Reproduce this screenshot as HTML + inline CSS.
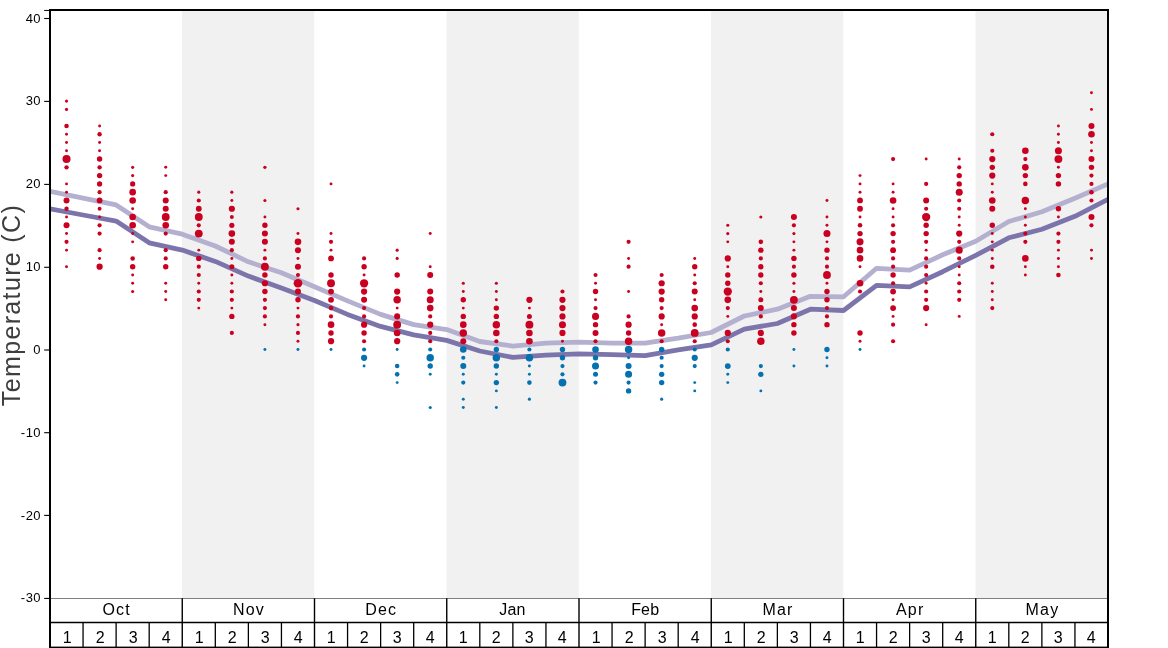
<!DOCTYPE html>
<html><head><meta charset="utf-8"><title>Temperature chart</title>
<style>html,body{margin:0;padding:0;background:#fff;}body{width:1168px;height:648px;overflow:hidden;}svg{display:block;}text{font-family:"Liberation Sans",sans-serif;}</style>
</head><body>
<svg width="1168" height="648" viewBox="0 0 1168 648">
<rect x="0" y="0" width="1168" height="648" fill="#ffffff"/>
<rect x="182.00" y="10.00" width="132.25" height="588.40" fill="#f1f1f1"/>
<rect x="446.50" y="10.00" width="132.25" height="588.40" fill="#f1f1f1"/>
<rect x="711.00" y="10.00" width="132.25" height="588.40" fill="#f1f1f1"/>
<rect x="975.50" y="10.00" width="132.25" height="588.40" fill="#f1f1f1"/>
<line x1="50.0" y1="598.5" x2="1108.0" y2="598.5" stroke="#808080" stroke-width="1"/>
<defs><filter id="ga" filterUnits="userSpaceOnUse" x="0" y="0" width="1168" height="648" color-interpolation-filters="sRGB"><feOffset dx="0" dy="0"/></filter><clipPath id="ax"><rect x="50.0" y="10.0" width="1058.0" height="637.6"/></clipPath></defs>
<polyline clip-path="url(#ax)" points="50.00,191.30 83.06,198.10 116.12,204.90 149.19,226.80 182.25,234.20 215.31,246.00 248.38,261.80 281.44,272.70 314.50,286.80 347.56,300.90 380.62,314.40 413.69,324.60 446.75,329.60 479.81,341.50 512.88,346.10 545.94,343.10 579.00,342.20 612.06,343.10 645.12,343.10 678.19,338.20 711.25,332.50 744.31,316.00 777.38,309.20 810.44,296.30 843.50,296.80 876.56,268.30 909.62,270.10 942.69,254.80 975.75,241.20 1008.81,221.50 1041.88,211.80 1074.94,198.30 1108.00,184.00" fill="none" stroke="#b4b0cf" stroke-width="4.8" stroke-linejoin="round" stroke-linecap="butt"/>
<polyline clip-path="url(#ax)" points="50.00,208.90 83.06,215.00 116.12,221.10 149.19,242.80 182.25,250.10 215.31,261.40 248.38,276.10 281.44,288.00 314.50,300.50 347.56,314.40 380.62,326.40 413.69,334.80 446.75,340.40 479.81,351.00 512.88,357.40 545.94,355.10 579.00,353.80 612.06,354.70 645.12,355.60 678.19,349.90 711.25,344.90 744.31,329.10 777.38,323.50 810.44,309.20 843.50,310.50 876.56,285.30 909.62,286.90 942.69,271.70 975.75,255.40 1008.81,237.80 1041.88,229.20 1074.94,216.30 1108.00,199.40" fill="none" stroke="#7c75ab" stroke-width="4.8" stroke-linejoin="round" stroke-linecap="butt"/>
<circle cx="66.53" cy="101.10" r="1.57" fill="#ca0020"/><circle cx="66.53" cy="109.38" r="1.57" fill="#ca0020"/><circle cx="66.53" cy="125.94" r="2.29" fill="#ca0020"/><circle cx="66.53" cy="134.22" r="1.47" fill="#ca0020"/><circle cx="66.53" cy="142.50" r="1.47" fill="#ca0020"/><circle cx="66.53" cy="150.78" r="1.47" fill="#ca0020"/><circle cx="66.53" cy="159.06" r="4.03" fill="#ca0020"/><circle cx="66.53" cy="167.34" r="2.19" fill="#ca0020"/><circle cx="66.53" cy="183.90" r="1.47" fill="#ca0020"/><circle cx="66.53" cy="192.18" r="1.47" fill="#ca0020"/><circle cx="66.53" cy="200.46" r="3.01" fill="#ca0020"/><circle cx="66.53" cy="208.74" r="2.19" fill="#ca0020"/><circle cx="66.53" cy="217.02" r="1.47" fill="#ca0020"/><circle cx="66.53" cy="225.30" r="3.01" fill="#ca0020"/><circle cx="66.53" cy="233.58" r="1.47" fill="#ca0020"/><circle cx="66.53" cy="241.86" r="2.08" fill="#ca0020"/><circle cx="66.53" cy="250.14" r="1.47" fill="#ca0020"/><circle cx="66.53" cy="266.70" r="1.47" fill="#ca0020"/>
<circle cx="99.59" cy="125.94" r="1.47" fill="#ca0020"/><circle cx="99.59" cy="134.22" r="2.19" fill="#ca0020"/><circle cx="99.59" cy="142.50" r="1.47" fill="#ca0020"/><circle cx="99.59" cy="150.78" r="1.47" fill="#ca0020"/><circle cx="99.59" cy="159.06" r="2.70" fill="#ca0020"/><circle cx="99.59" cy="167.34" r="2.19" fill="#ca0020"/><circle cx="99.59" cy="175.62" r="2.70" fill="#ca0020"/><circle cx="99.59" cy="183.90" r="2.60" fill="#ca0020"/><circle cx="99.59" cy="192.18" r="2.08" fill="#ca0020"/><circle cx="99.59" cy="200.46" r="2.91" fill="#ca0020"/><circle cx="99.59" cy="208.74" r="1.98" fill="#ca0020"/><circle cx="99.59" cy="217.02" r="1.47" fill="#ca0020"/><circle cx="99.59" cy="225.30" r="2.08" fill="#ca0020"/><circle cx="99.59" cy="233.58" r="2.08" fill="#ca0020"/><circle cx="99.59" cy="250.14" r="2.08" fill="#ca0020"/><circle cx="99.59" cy="258.42" r="1.47" fill="#ca0020"/><circle cx="99.59" cy="266.70" r="3.11" fill="#ca0020"/>
<circle cx="132.66" cy="167.34" r="1.57" fill="#ca0020"/><circle cx="132.66" cy="175.62" r="1.57" fill="#ca0020"/><circle cx="132.66" cy="183.90" r="2.60" fill="#ca0020"/><circle cx="132.66" cy="192.18" r="3.31" fill="#ca0020"/><circle cx="132.66" cy="200.46" r="3.31" fill="#ca0020"/><circle cx="132.66" cy="208.74" r="1.47" fill="#ca0020"/><circle cx="132.66" cy="217.02" r="3.31" fill="#ca0020"/><circle cx="132.66" cy="225.30" r="3.31" fill="#ca0020"/><circle cx="132.66" cy="233.58" r="1.47" fill="#ca0020"/><circle cx="132.66" cy="241.86" r="1.47" fill="#ca0020"/><circle cx="132.66" cy="258.42" r="2.29" fill="#ca0020"/><circle cx="132.66" cy="266.70" r="2.70" fill="#ca0020"/><circle cx="132.66" cy="274.98" r="1.47" fill="#ca0020"/><circle cx="132.66" cy="283.26" r="1.47" fill="#ca0020"/><circle cx="132.66" cy="291.54" r="1.57" fill="#ca0020"/>
<circle cx="165.72" cy="167.34" r="1.47" fill="#ca0020"/><circle cx="165.72" cy="175.62" r="1.47" fill="#ca0020"/><circle cx="165.72" cy="192.18" r="2.08" fill="#ca0020"/><circle cx="165.72" cy="200.46" r="3.01" fill="#ca0020"/><circle cx="165.72" cy="208.74" r="3.01" fill="#ca0020"/><circle cx="165.72" cy="217.02" r="3.93" fill="#ca0020"/><circle cx="165.72" cy="225.30" r="3.31" fill="#ca0020"/><circle cx="165.72" cy="233.58" r="2.08" fill="#ca0020"/><circle cx="165.72" cy="250.14" r="2.08" fill="#ca0020"/><circle cx="165.72" cy="258.42" r="2.08" fill="#ca0020"/><circle cx="165.72" cy="266.70" r="2.70" fill="#ca0020"/><circle cx="165.72" cy="283.26" r="1.47" fill="#ca0020"/><circle cx="165.72" cy="291.54" r="1.47" fill="#ca0020"/><circle cx="165.72" cy="299.82" r="1.47" fill="#ca0020"/>
<circle cx="198.78" cy="192.18" r="1.57" fill="#ca0020"/><circle cx="198.78" cy="200.46" r="2.08" fill="#ca0020"/><circle cx="198.78" cy="208.74" r="2.91" fill="#ca0020"/><circle cx="198.78" cy="217.02" r="3.93" fill="#ca0020"/><circle cx="198.78" cy="225.30" r="2.08" fill="#ca0020"/><circle cx="198.78" cy="233.58" r="3.93" fill="#ca0020"/><circle cx="198.78" cy="250.14" r="1.47" fill="#ca0020"/><circle cx="198.78" cy="258.42" r="2.70" fill="#ca0020"/><circle cx="198.78" cy="266.70" r="2.08" fill="#ca0020"/><circle cx="198.78" cy="274.98" r="2.08" fill="#ca0020"/><circle cx="198.78" cy="283.26" r="1.47" fill="#ca0020"/><circle cx="198.78" cy="291.54" r="2.08" fill="#ca0020"/><circle cx="198.78" cy="299.82" r="2.08" fill="#ca0020"/><circle cx="198.78" cy="308.10" r="1.47" fill="#ca0020"/>
<circle cx="231.84" cy="192.18" r="1.57" fill="#ca0020"/><circle cx="231.84" cy="200.46" r="1.47" fill="#ca0020"/><circle cx="231.84" cy="208.74" r="3.11" fill="#ca0020"/><circle cx="231.84" cy="217.02" r="1.98" fill="#ca0020"/><circle cx="231.84" cy="225.30" r="2.60" fill="#ca0020"/><circle cx="231.84" cy="233.58" r="3.31" fill="#ca0020"/><circle cx="231.84" cy="241.86" r="3.01" fill="#ca0020"/><circle cx="231.84" cy="250.14" r="2.08" fill="#ca0020"/><circle cx="231.84" cy="258.42" r="1.47" fill="#ca0020"/><circle cx="231.84" cy="266.70" r="2.50" fill="#ca0020"/><circle cx="231.84" cy="274.98" r="1.47" fill="#ca0020"/><circle cx="231.84" cy="283.26" r="1.47" fill="#ca0020"/><circle cx="231.84" cy="291.54" r="2.08" fill="#ca0020"/><circle cx="231.84" cy="299.82" r="2.08" fill="#ca0020"/><circle cx="231.84" cy="308.10" r="1.47" fill="#ca0020"/><circle cx="231.84" cy="316.38" r="2.70" fill="#ca0020"/><circle cx="231.84" cy="332.94" r="2.08" fill="#ca0020"/>
<circle cx="264.91" cy="167.34" r="1.67" fill="#ca0020"/><circle cx="264.91" cy="200.46" r="1.57" fill="#ca0020"/><circle cx="264.91" cy="217.02" r="1.47" fill="#ca0020"/><circle cx="264.91" cy="225.30" r="2.70" fill="#ca0020"/><circle cx="264.91" cy="233.58" r="3.01" fill="#ca0020"/><circle cx="264.91" cy="241.86" r="3.01" fill="#ca0020"/><circle cx="264.91" cy="250.14" r="1.47" fill="#ca0020"/><circle cx="264.91" cy="258.42" r="2.08" fill="#ca0020"/><circle cx="264.91" cy="266.70" r="3.93" fill="#ca0020"/><circle cx="264.91" cy="274.98" r="2.70" fill="#ca0020"/><circle cx="264.91" cy="283.26" r="3.11" fill="#ca0020"/><circle cx="264.91" cy="291.54" r="2.70" fill="#ca0020"/><circle cx="264.91" cy="299.82" r="2.08" fill="#ca0020"/><circle cx="264.91" cy="308.10" r="2.08" fill="#ca0020"/><circle cx="264.91" cy="316.38" r="2.08" fill="#ca0020"/><circle cx="264.91" cy="324.66" r="1.47" fill="#ca0020"/><circle cx="264.91" cy="349.50" r="1.47" fill="#0571b0"/>
<circle cx="297.97" cy="208.74" r="1.57" fill="#ca0020"/><circle cx="297.97" cy="233.58" r="1.47" fill="#ca0020"/><circle cx="297.97" cy="241.86" r="3.31" fill="#ca0020"/><circle cx="297.97" cy="250.14" r="3.01" fill="#ca0020"/><circle cx="297.97" cy="258.42" r="1.47" fill="#ca0020"/><circle cx="297.97" cy="266.70" r="3.01" fill="#ca0020"/><circle cx="297.97" cy="274.98" r="2.08" fill="#ca0020"/><circle cx="297.97" cy="283.26" r="4.34" fill="#ca0020"/><circle cx="297.97" cy="291.54" r="3.01" fill="#ca0020"/><circle cx="297.97" cy="299.82" r="2.70" fill="#ca0020"/><circle cx="297.97" cy="308.10" r="1.47" fill="#ca0020"/><circle cx="297.97" cy="316.38" r="2.08" fill="#ca0020"/><circle cx="297.97" cy="324.66" r="1.57" fill="#ca0020"/><circle cx="297.97" cy="332.94" r="2.08" fill="#ca0020"/><circle cx="297.97" cy="341.22" r="1.47" fill="#ca0020"/><circle cx="297.97" cy="349.50" r="1.47" fill="#0571b0"/>
<circle cx="331.03" cy="183.90" r="1.47" fill="#ca0020"/><circle cx="331.03" cy="233.58" r="1.47" fill="#ca0020"/><circle cx="331.03" cy="241.86" r="2.08" fill="#ca0020"/><circle cx="331.03" cy="250.14" r="1.47" fill="#ca0020"/><circle cx="331.03" cy="258.42" r="2.91" fill="#ca0020"/><circle cx="331.03" cy="274.98" r="2.70" fill="#ca0020"/><circle cx="331.03" cy="283.26" r="3.93" fill="#ca0020"/><circle cx="331.03" cy="291.54" r="2.91" fill="#ca0020"/><circle cx="331.03" cy="299.82" r="2.91" fill="#ca0020"/><circle cx="331.03" cy="308.10" r="2.29" fill="#ca0020"/><circle cx="331.03" cy="316.38" r="2.08" fill="#ca0020"/><circle cx="331.03" cy="324.66" r="3.31" fill="#ca0020"/><circle cx="331.03" cy="332.94" r="2.70" fill="#ca0020"/><circle cx="331.03" cy="341.22" r="3.11" fill="#ca0020"/><circle cx="331.03" cy="349.50" r="1.47" fill="#0571b0"/>
<circle cx="364.09" cy="258.42" r="2.08" fill="#ca0020"/><circle cx="364.09" cy="266.70" r="2.70" fill="#ca0020"/><circle cx="364.09" cy="274.98" r="1.47" fill="#ca0020"/><circle cx="364.09" cy="283.26" r="4.13" fill="#ca0020"/><circle cx="364.09" cy="291.54" r="3.11" fill="#ca0020"/><circle cx="364.09" cy="299.82" r="3.01" fill="#ca0020"/><circle cx="364.09" cy="308.10" r="2.08" fill="#ca0020"/><circle cx="364.09" cy="316.38" r="2.08" fill="#ca0020"/><circle cx="364.09" cy="324.66" r="3.11" fill="#ca0020"/><circle cx="364.09" cy="332.94" r="2.70" fill="#ca0020"/><circle cx="364.09" cy="341.22" r="2.08" fill="#ca0020"/><circle cx="364.09" cy="349.50" r="2.08" fill="#0571b0"/><circle cx="364.09" cy="357.78" r="3.11" fill="#0571b0"/><circle cx="364.09" cy="366.06" r="1.47" fill="#0571b0"/>
<circle cx="397.16" cy="250.14" r="1.57" fill="#ca0020"/><circle cx="397.16" cy="258.42" r="1.57" fill="#ca0020"/><circle cx="397.16" cy="274.98" r="2.70" fill="#ca0020"/><circle cx="397.16" cy="291.54" r="3.11" fill="#ca0020"/><circle cx="397.16" cy="299.82" r="3.72" fill="#ca0020"/><circle cx="397.16" cy="308.10" r="1.47" fill="#ca0020"/><circle cx="397.16" cy="316.38" r="3.01" fill="#ca0020"/><circle cx="397.16" cy="324.66" r="3.93" fill="#ca0020"/><circle cx="397.16" cy="332.94" r="3.31" fill="#ca0020"/><circle cx="397.16" cy="341.22" r="3.11" fill="#ca0020"/><circle cx="397.16" cy="349.50" r="1.47" fill="#0571b0"/><circle cx="397.16" cy="366.06" r="2.29" fill="#0571b0"/><circle cx="397.16" cy="374.34" r="2.29" fill="#0571b0"/><circle cx="397.16" cy="382.62" r="1.47" fill="#0571b0"/>
<circle cx="430.22" cy="233.58" r="1.47" fill="#ca0020"/><circle cx="430.22" cy="266.70" r="1.47" fill="#ca0020"/><circle cx="430.22" cy="274.98" r="3.01" fill="#ca0020"/><circle cx="430.22" cy="291.54" r="3.01" fill="#ca0020"/><circle cx="430.22" cy="299.82" r="3.52" fill="#ca0020"/><circle cx="430.22" cy="308.10" r="3.31" fill="#ca0020"/><circle cx="430.22" cy="316.38" r="2.08" fill="#ca0020"/><circle cx="430.22" cy="324.66" r="3.11" fill="#ca0020"/><circle cx="430.22" cy="332.94" r="2.08" fill="#ca0020"/><circle cx="430.22" cy="341.22" r="2.08" fill="#ca0020"/><circle cx="430.22" cy="349.50" r="2.08" fill="#0571b0"/><circle cx="430.22" cy="357.78" r="3.72" fill="#0571b0"/><circle cx="430.22" cy="366.06" r="2.70" fill="#0571b0"/><circle cx="430.22" cy="374.34" r="1.47" fill="#0571b0"/><circle cx="430.22" cy="407.46" r="1.57" fill="#0571b0"/>
<circle cx="463.28" cy="283.26" r="1.57" fill="#ca0020"/><circle cx="463.28" cy="291.54" r="1.47" fill="#ca0020"/><circle cx="463.28" cy="299.82" r="2.70" fill="#ca0020"/><circle cx="463.28" cy="308.10" r="1.47" fill="#ca0020"/><circle cx="463.28" cy="316.38" r="2.70" fill="#ca0020"/><circle cx="463.28" cy="324.66" r="3.31" fill="#ca0020"/><circle cx="463.28" cy="332.94" r="3.72" fill="#ca0020"/><circle cx="463.28" cy="341.22" r="3.01" fill="#ca0020"/><circle cx="463.28" cy="349.50" r="3.31" fill="#0571b0"/><circle cx="463.28" cy="357.78" r="2.08" fill="#0571b0"/><circle cx="463.28" cy="366.06" r="3.01" fill="#0571b0"/><circle cx="463.28" cy="374.34" r="1.47" fill="#0571b0"/><circle cx="463.28" cy="382.62" r="2.08" fill="#0571b0"/><circle cx="463.28" cy="399.18" r="1.47" fill="#0571b0"/><circle cx="463.28" cy="407.46" r="1.47" fill="#0571b0"/>
<circle cx="496.34" cy="283.26" r="1.57" fill="#ca0020"/><circle cx="496.34" cy="291.54" r="1.47" fill="#ca0020"/><circle cx="496.34" cy="299.82" r="1.47" fill="#ca0020"/><circle cx="496.34" cy="308.10" r="2.70" fill="#ca0020"/><circle cx="496.34" cy="316.38" r="2.70" fill="#ca0020"/><circle cx="496.34" cy="324.66" r="3.72" fill="#ca0020"/><circle cx="496.34" cy="332.94" r="3.31" fill="#ca0020"/><circle cx="496.34" cy="341.22" r="2.08" fill="#ca0020"/><circle cx="496.34" cy="349.50" r="2.70" fill="#0571b0"/><circle cx="496.34" cy="357.78" r="3.72" fill="#0571b0"/><circle cx="496.34" cy="366.06" r="2.70" fill="#0571b0"/><circle cx="496.34" cy="374.34" r="1.47" fill="#0571b0"/><circle cx="496.34" cy="382.62" r="2.70" fill="#0571b0"/><circle cx="496.34" cy="390.90" r="1.47" fill="#0571b0"/><circle cx="496.34" cy="407.46" r="1.47" fill="#0571b0"/>
<circle cx="529.41" cy="299.82" r="3.11" fill="#ca0020"/><circle cx="529.41" cy="308.10" r="1.47" fill="#ca0020"/><circle cx="529.41" cy="316.38" r="2.50" fill="#ca0020"/><circle cx="529.41" cy="324.66" r="3.93" fill="#ca0020"/><circle cx="529.41" cy="332.94" r="3.31" fill="#ca0020"/><circle cx="529.41" cy="341.22" r="3.31" fill="#ca0020"/><circle cx="529.41" cy="349.50" r="2.08" fill="#0571b0"/><circle cx="529.41" cy="357.78" r="3.72" fill="#0571b0"/><circle cx="529.41" cy="366.06" r="1.47" fill="#0571b0"/><circle cx="529.41" cy="374.34" r="1.47" fill="#0571b0"/><circle cx="529.41" cy="382.62" r="2.29" fill="#0571b0"/><circle cx="529.41" cy="399.18" r="1.57" fill="#0571b0"/>
<circle cx="562.47" cy="291.54" r="2.08" fill="#ca0020"/><circle cx="562.47" cy="299.82" r="3.11" fill="#ca0020"/><circle cx="562.47" cy="308.10" r="3.11" fill="#ca0020"/><circle cx="562.47" cy="316.38" r="3.11" fill="#ca0020"/><circle cx="562.47" cy="324.66" r="3.52" fill="#ca0020"/><circle cx="562.47" cy="332.94" r="3.11" fill="#ca0020"/><circle cx="562.47" cy="341.22" r="1.47" fill="#ca0020"/><circle cx="562.47" cy="349.50" r="2.70" fill="#0571b0"/><circle cx="562.47" cy="357.78" r="2.70" fill="#0571b0"/><circle cx="562.47" cy="366.06" r="2.08" fill="#0571b0"/><circle cx="562.47" cy="374.34" r="2.08" fill="#0571b0"/><circle cx="562.47" cy="382.62" r="3.93" fill="#0571b0"/>
<circle cx="595.53" cy="274.98" r="2.08" fill="#ca0020"/><circle cx="595.53" cy="283.26" r="1.47" fill="#ca0020"/><circle cx="595.53" cy="291.54" r="2.70" fill="#ca0020"/><circle cx="595.53" cy="299.82" r="1.47" fill="#ca0020"/><circle cx="595.53" cy="308.10" r="2.08" fill="#ca0020"/><circle cx="595.53" cy="316.38" r="3.52" fill="#ca0020"/><circle cx="595.53" cy="324.66" r="2.70" fill="#ca0020"/><circle cx="595.53" cy="332.94" r="3.01" fill="#ca0020"/><circle cx="595.53" cy="341.22" r="2.08" fill="#ca0020"/><circle cx="595.53" cy="349.50" r="3.31" fill="#0571b0"/><circle cx="595.53" cy="357.78" r="2.70" fill="#0571b0"/><circle cx="595.53" cy="366.06" r="3.52" fill="#0571b0"/><circle cx="595.53" cy="374.34" r="2.50" fill="#0571b0"/><circle cx="595.53" cy="382.62" r="2.08" fill="#0571b0"/>
<circle cx="628.59" cy="241.86" r="2.08" fill="#ca0020"/><circle cx="628.59" cy="258.42" r="1.47" fill="#ca0020"/><circle cx="628.59" cy="266.70" r="2.08" fill="#ca0020"/><circle cx="628.59" cy="291.54" r="1.47" fill="#ca0020"/><circle cx="628.59" cy="316.38" r="2.08" fill="#ca0020"/><circle cx="628.59" cy="324.66" r="3.11" fill="#ca0020"/><circle cx="628.59" cy="332.94" r="2.70" fill="#ca0020"/><circle cx="628.59" cy="341.22" r="3.72" fill="#ca0020"/><circle cx="628.59" cy="349.50" r="3.72" fill="#0571b0"/><circle cx="628.59" cy="357.78" r="1.47" fill="#0571b0"/><circle cx="628.59" cy="366.06" r="3.01" fill="#0571b0"/><circle cx="628.59" cy="374.34" r="3.52" fill="#0571b0"/><circle cx="628.59" cy="382.62" r="2.08" fill="#0571b0"/><circle cx="628.59" cy="390.90" r="2.70" fill="#0571b0"/>
<circle cx="661.66" cy="274.98" r="2.08" fill="#ca0020"/><circle cx="661.66" cy="283.26" r="3.11" fill="#ca0020"/><circle cx="661.66" cy="291.54" r="3.11" fill="#ca0020"/><circle cx="661.66" cy="299.82" r="2.70" fill="#ca0020"/><circle cx="661.66" cy="308.10" r="2.08" fill="#ca0020"/><circle cx="661.66" cy="316.38" r="3.11" fill="#ca0020"/><circle cx="661.66" cy="324.66" r="1.47" fill="#ca0020"/><circle cx="661.66" cy="332.94" r="3.72" fill="#ca0020"/><circle cx="661.66" cy="341.22" r="2.08" fill="#ca0020"/><circle cx="661.66" cy="349.50" r="2.70" fill="#0571b0"/><circle cx="661.66" cy="357.78" r="2.08" fill="#0571b0"/><circle cx="661.66" cy="366.06" r="2.08" fill="#0571b0"/><circle cx="661.66" cy="374.34" r="2.70" fill="#0571b0"/><circle cx="661.66" cy="382.62" r="2.70" fill="#0571b0"/><circle cx="661.66" cy="399.18" r="1.57" fill="#0571b0"/>
<circle cx="694.72" cy="258.42" r="1.47" fill="#ca0020"/><circle cx="694.72" cy="266.70" r="2.70" fill="#ca0020"/><circle cx="694.72" cy="274.98" r="1.47" fill="#ca0020"/><circle cx="694.72" cy="283.26" r="2.08" fill="#ca0020"/><circle cx="694.72" cy="291.54" r="3.01" fill="#ca0020"/><circle cx="694.72" cy="299.82" r="1.47" fill="#ca0020"/><circle cx="694.72" cy="308.10" r="3.31" fill="#ca0020"/><circle cx="694.72" cy="316.38" r="3.11" fill="#ca0020"/><circle cx="694.72" cy="324.66" r="2.29" fill="#ca0020"/><circle cx="694.72" cy="332.94" r="3.93" fill="#ca0020"/><circle cx="694.72" cy="341.22" r="2.08" fill="#ca0020"/><circle cx="694.72" cy="349.50" r="2.08" fill="#0571b0"/><circle cx="694.72" cy="357.78" r="3.11" fill="#0571b0"/><circle cx="694.72" cy="366.06" r="2.08" fill="#0571b0"/><circle cx="694.72" cy="382.62" r="1.47" fill="#0571b0"/><circle cx="694.72" cy="390.90" r="1.47" fill="#0571b0"/>
<circle cx="727.78" cy="225.30" r="1.57" fill="#ca0020"/><circle cx="727.78" cy="233.58" r="1.57" fill="#ca0020"/><circle cx="727.78" cy="241.86" r="1.47" fill="#ca0020"/><circle cx="727.78" cy="258.42" r="3.11" fill="#ca0020"/><circle cx="727.78" cy="266.70" r="1.47" fill="#ca0020"/><circle cx="727.78" cy="274.98" r="2.70" fill="#ca0020"/><circle cx="727.78" cy="283.26" r="2.70" fill="#ca0020"/><circle cx="727.78" cy="291.54" r="4.13" fill="#ca0020"/><circle cx="727.78" cy="299.82" r="3.31" fill="#ca0020"/><circle cx="727.78" cy="308.10" r="2.08" fill="#ca0020"/><circle cx="727.78" cy="316.38" r="1.47" fill="#ca0020"/><circle cx="727.78" cy="332.94" r="3.11" fill="#ca0020"/><circle cx="727.78" cy="341.22" r="2.08" fill="#ca0020"/><circle cx="727.78" cy="349.50" r="2.08" fill="#0571b0"/><circle cx="727.78" cy="366.06" r="2.91" fill="#0571b0"/><circle cx="727.78" cy="374.34" r="1.47" fill="#0571b0"/><circle cx="727.78" cy="382.62" r="1.47" fill="#0571b0"/>
<circle cx="760.84" cy="217.02" r="1.57" fill="#ca0020"/><circle cx="760.84" cy="241.86" r="2.29" fill="#ca0020"/><circle cx="760.84" cy="250.14" r="2.70" fill="#ca0020"/><circle cx="760.84" cy="258.42" r="2.08" fill="#ca0020"/><circle cx="760.84" cy="266.70" r="2.70" fill="#ca0020"/><circle cx="760.84" cy="274.98" r="2.70" fill="#ca0020"/><circle cx="760.84" cy="283.26" r="2.08" fill="#ca0020"/><circle cx="760.84" cy="291.54" r="1.47" fill="#ca0020"/><circle cx="760.84" cy="299.82" r="2.50" fill="#ca0020"/><circle cx="760.84" cy="308.10" r="3.01" fill="#ca0020"/><circle cx="760.84" cy="316.38" r="2.08" fill="#ca0020"/><circle cx="760.84" cy="332.94" r="3.11" fill="#ca0020"/><circle cx="760.84" cy="341.22" r="3.72" fill="#ca0020"/><circle cx="760.84" cy="366.06" r="2.08" fill="#0571b0"/><circle cx="760.84" cy="374.34" r="2.70" fill="#0571b0"/><circle cx="760.84" cy="390.90" r="1.47" fill="#0571b0"/>
<circle cx="793.91" cy="217.02" r="3.01" fill="#ca0020"/><circle cx="793.91" cy="225.30" r="2.08" fill="#ca0020"/><circle cx="793.91" cy="233.58" r="1.57" fill="#ca0020"/><circle cx="793.91" cy="241.86" r="1.47" fill="#ca0020"/><circle cx="793.91" cy="250.14" r="1.47" fill="#ca0020"/><circle cx="793.91" cy="258.42" r="2.70" fill="#ca0020"/><circle cx="793.91" cy="266.70" r="2.08" fill="#ca0020"/><circle cx="793.91" cy="274.98" r="2.70" fill="#ca0020"/><circle cx="793.91" cy="283.26" r="1.57" fill="#ca0020"/><circle cx="793.91" cy="291.54" r="1.47" fill="#ca0020"/><circle cx="793.91" cy="299.82" r="3.93" fill="#ca0020"/><circle cx="793.91" cy="308.10" r="3.01" fill="#ca0020"/><circle cx="793.91" cy="316.38" r="3.01" fill="#ca0020"/><circle cx="793.91" cy="324.66" r="2.70" fill="#ca0020"/><circle cx="793.91" cy="332.94" r="2.70" fill="#ca0020"/><circle cx="793.91" cy="349.50" r="1.47" fill="#0571b0"/><circle cx="793.91" cy="366.06" r="1.47" fill="#0571b0"/>
<circle cx="826.97" cy="200.46" r="1.47" fill="#ca0020"/><circle cx="826.97" cy="217.02" r="1.47" fill="#ca0020"/><circle cx="826.97" cy="225.30" r="1.47" fill="#ca0020"/><circle cx="826.97" cy="233.58" r="3.52" fill="#ca0020"/><circle cx="826.97" cy="241.86" r="1.47" fill="#ca0020"/><circle cx="826.97" cy="250.14" r="2.70" fill="#ca0020"/><circle cx="826.97" cy="258.42" r="2.08" fill="#ca0020"/><circle cx="826.97" cy="266.70" r="2.08" fill="#ca0020"/><circle cx="826.97" cy="274.98" r="3.93" fill="#ca0020"/><circle cx="826.97" cy="283.26" r="1.47" fill="#ca0020"/><circle cx="826.97" cy="291.54" r="2.70" fill="#ca0020"/><circle cx="826.97" cy="299.82" r="2.70" fill="#ca0020"/><circle cx="826.97" cy="308.10" r="2.08" fill="#ca0020"/><circle cx="826.97" cy="316.38" r="2.08" fill="#ca0020"/><circle cx="826.97" cy="324.66" r="2.70" fill="#ca0020"/><circle cx="826.97" cy="349.50" r="2.70" fill="#0571b0"/><circle cx="826.97" cy="357.78" r="1.47" fill="#0571b0"/><circle cx="826.97" cy="366.06" r="1.47" fill="#0571b0"/>
<circle cx="860.03" cy="175.62" r="1.47" fill="#ca0020"/><circle cx="860.03" cy="183.90" r="1.47" fill="#ca0020"/><circle cx="860.03" cy="192.18" r="1.47" fill="#ca0020"/><circle cx="860.03" cy="200.46" r="2.91" fill="#ca0020"/><circle cx="860.03" cy="208.74" r="2.91" fill="#ca0020"/><circle cx="860.03" cy="217.02" r="1.47" fill="#ca0020"/><circle cx="860.03" cy="225.30" r="2.29" fill="#ca0020"/><circle cx="860.03" cy="233.58" r="2.70" fill="#ca0020"/><circle cx="860.03" cy="241.86" r="3.52" fill="#ca0020"/><circle cx="860.03" cy="250.14" r="3.31" fill="#ca0020"/><circle cx="860.03" cy="258.42" r="3.31" fill="#ca0020"/><circle cx="860.03" cy="266.70" r="1.47" fill="#ca0020"/><circle cx="860.03" cy="283.26" r="3.31" fill="#ca0020"/><circle cx="860.03" cy="291.54" r="2.08" fill="#ca0020"/><circle cx="860.03" cy="332.94" r="2.70" fill="#ca0020"/><circle cx="860.03" cy="341.22" r="1.47" fill="#ca0020"/><circle cx="860.03" cy="349.50" r="1.47" fill="#0571b0"/>
<circle cx="893.09" cy="159.06" r="2.08" fill="#ca0020"/><circle cx="893.09" cy="183.90" r="1.47" fill="#ca0020"/><circle cx="893.09" cy="192.18" r="1.47" fill="#ca0020"/><circle cx="893.09" cy="200.46" r="3.31" fill="#ca0020"/><circle cx="893.09" cy="208.74" r="1.47" fill="#ca0020"/><circle cx="893.09" cy="217.02" r="1.47" fill="#ca0020"/><circle cx="893.09" cy="225.30" r="2.08" fill="#ca0020"/><circle cx="893.09" cy="233.58" r="2.70" fill="#ca0020"/><circle cx="893.09" cy="241.86" r="2.08" fill="#ca0020"/><circle cx="893.09" cy="250.14" r="2.91" fill="#ca0020"/><circle cx="893.09" cy="258.42" r="2.08" fill="#ca0020"/><circle cx="893.09" cy="266.70" r="2.08" fill="#ca0020"/><circle cx="893.09" cy="274.98" r="2.70" fill="#ca0020"/><circle cx="893.09" cy="283.26" r="2.08" fill="#ca0020"/><circle cx="893.09" cy="291.54" r="2.91" fill="#ca0020"/><circle cx="893.09" cy="299.82" r="1.47" fill="#ca0020"/><circle cx="893.09" cy="308.10" r="2.91" fill="#ca0020"/><circle cx="893.09" cy="316.38" r="1.47" fill="#ca0020"/><circle cx="893.09" cy="324.66" r="2.08" fill="#ca0020"/><circle cx="893.09" cy="341.22" r="2.08" fill="#ca0020"/>
<circle cx="926.16" cy="159.06" r="1.47" fill="#ca0020"/><circle cx="926.16" cy="183.90" r="2.08" fill="#ca0020"/><circle cx="926.16" cy="200.46" r="3.01" fill="#ca0020"/><circle cx="926.16" cy="208.74" r="2.08" fill="#ca0020"/><circle cx="926.16" cy="217.02" r="4.13" fill="#ca0020"/><circle cx="926.16" cy="225.30" r="2.70" fill="#ca0020"/><circle cx="926.16" cy="233.58" r="2.70" fill="#ca0020"/><circle cx="926.16" cy="241.86" r="2.08" fill="#ca0020"/><circle cx="926.16" cy="250.14" r="1.47" fill="#ca0020"/><circle cx="926.16" cy="258.42" r="2.08" fill="#ca0020"/><circle cx="926.16" cy="266.70" r="2.08" fill="#ca0020"/><circle cx="926.16" cy="274.98" r="2.08" fill="#ca0020"/><circle cx="926.16" cy="283.26" r="1.47" fill="#ca0020"/><circle cx="926.16" cy="291.54" r="2.08" fill="#ca0020"/><circle cx="926.16" cy="299.82" r="2.08" fill="#ca0020"/><circle cx="926.16" cy="308.10" r="3.11" fill="#ca0020"/><circle cx="926.16" cy="324.66" r="1.47" fill="#ca0020"/>
<circle cx="959.22" cy="159.06" r="1.47" fill="#ca0020"/><circle cx="959.22" cy="167.34" r="2.08" fill="#ca0020"/><circle cx="959.22" cy="175.62" r="2.70" fill="#ca0020"/><circle cx="959.22" cy="183.90" r="2.70" fill="#ca0020"/><circle cx="959.22" cy="192.18" r="3.52" fill="#ca0020"/><circle cx="959.22" cy="200.46" r="2.08" fill="#ca0020"/><circle cx="959.22" cy="208.74" r="2.08" fill="#ca0020"/><circle cx="959.22" cy="217.02" r="1.47" fill="#ca0020"/><circle cx="959.22" cy="225.30" r="1.47" fill="#ca0020"/><circle cx="959.22" cy="233.58" r="3.11" fill="#ca0020"/><circle cx="959.22" cy="241.86" r="2.08" fill="#ca0020"/><circle cx="959.22" cy="250.14" r="3.52" fill="#ca0020"/><circle cx="959.22" cy="258.42" r="2.08" fill="#ca0020"/><circle cx="959.22" cy="266.70" r="1.47" fill="#ca0020"/><circle cx="959.22" cy="274.98" r="1.47" fill="#ca0020"/><circle cx="959.22" cy="283.26" r="2.08" fill="#ca0020"/><circle cx="959.22" cy="291.54" r="2.08" fill="#ca0020"/><circle cx="959.22" cy="299.82" r="2.08" fill="#ca0020"/><circle cx="959.22" cy="316.38" r="1.47" fill="#ca0020"/>
<circle cx="992.28" cy="134.22" r="2.08" fill="#ca0020"/><circle cx="992.28" cy="150.78" r="2.08" fill="#ca0020"/><circle cx="992.28" cy="159.06" r="3.11" fill="#ca0020"/><circle cx="992.28" cy="167.34" r="2.70" fill="#ca0020"/><circle cx="992.28" cy="175.62" r="3.11" fill="#ca0020"/><circle cx="992.28" cy="183.90" r="1.47" fill="#ca0020"/><circle cx="992.28" cy="192.18" r="1.47" fill="#ca0020"/><circle cx="992.28" cy="200.46" r="3.31" fill="#ca0020"/><circle cx="992.28" cy="208.74" r="3.01" fill="#ca0020"/><circle cx="992.28" cy="225.30" r="2.70" fill="#ca0020"/><circle cx="992.28" cy="233.58" r="1.47" fill="#ca0020"/><circle cx="992.28" cy="241.86" r="1.47" fill="#ca0020"/><circle cx="992.28" cy="250.14" r="1.47" fill="#ca0020"/><circle cx="992.28" cy="258.42" r="1.47" fill="#ca0020"/><circle cx="992.28" cy="266.70" r="2.29" fill="#ca0020"/><circle cx="992.28" cy="283.26" r="1.47" fill="#ca0020"/><circle cx="992.28" cy="291.54" r="1.47" fill="#ca0020"/><circle cx="992.28" cy="299.82" r="1.47" fill="#ca0020"/><circle cx="992.28" cy="308.10" r="2.08" fill="#ca0020"/>
<circle cx="1025.34" cy="150.78" r="3.31" fill="#ca0020"/><circle cx="1025.34" cy="159.06" r="2.08" fill="#ca0020"/><circle cx="1025.34" cy="167.34" r="3.31" fill="#ca0020"/><circle cx="1025.34" cy="175.62" r="2.70" fill="#ca0020"/><circle cx="1025.34" cy="183.90" r="2.29" fill="#ca0020"/><circle cx="1025.34" cy="200.46" r="3.72" fill="#ca0020"/><circle cx="1025.34" cy="208.74" r="1.47" fill="#ca0020"/><circle cx="1025.34" cy="217.02" r="1.47" fill="#ca0020"/><circle cx="1025.34" cy="225.30" r="1.47" fill="#ca0020"/><circle cx="1025.34" cy="233.58" r="2.08" fill="#ca0020"/><circle cx="1025.34" cy="241.86" r="2.08" fill="#ca0020"/><circle cx="1025.34" cy="258.42" r="3.31" fill="#ca0020"/><circle cx="1025.34" cy="266.70" r="1.47" fill="#ca0020"/><circle cx="1025.34" cy="274.98" r="1.47" fill="#ca0020"/>
<circle cx="1058.41" cy="125.94" r="1.47" fill="#ca0020"/><circle cx="1058.41" cy="134.22" r="1.47" fill="#ca0020"/><circle cx="1058.41" cy="142.50" r="1.47" fill="#ca0020"/><circle cx="1058.41" cy="150.78" r="3.52" fill="#ca0020"/><circle cx="1058.41" cy="159.06" r="3.93" fill="#ca0020"/><circle cx="1058.41" cy="167.34" r="1.47" fill="#ca0020"/><circle cx="1058.41" cy="175.62" r="2.70" fill="#ca0020"/><circle cx="1058.41" cy="183.90" r="2.70" fill="#ca0020"/><circle cx="1058.41" cy="208.74" r="2.70" fill="#ca0020"/><circle cx="1058.41" cy="217.02" r="1.47" fill="#ca0020"/><circle cx="1058.41" cy="233.58" r="2.08" fill="#ca0020"/><circle cx="1058.41" cy="241.86" r="2.08" fill="#ca0020"/><circle cx="1058.41" cy="250.14" r="1.47" fill="#ca0020"/><circle cx="1058.41" cy="258.42" r="1.47" fill="#ca0020"/><circle cx="1058.41" cy="266.70" r="1.47" fill="#ca0020"/><circle cx="1058.41" cy="274.98" r="2.29" fill="#ca0020"/>
<circle cx="1091.47" cy="92.82" r="1.47" fill="#ca0020"/><circle cx="1091.47" cy="109.38" r="1.47" fill="#ca0020"/><circle cx="1091.47" cy="125.94" r="3.01" fill="#ca0020"/><circle cx="1091.47" cy="134.22" r="3.31" fill="#ca0020"/><circle cx="1091.47" cy="142.50" r="1.47" fill="#ca0020"/><circle cx="1091.47" cy="150.78" r="1.47" fill="#ca0020"/><circle cx="1091.47" cy="159.06" r="3.01" fill="#ca0020"/><circle cx="1091.47" cy="167.34" r="2.70" fill="#ca0020"/><circle cx="1091.47" cy="175.62" r="2.08" fill="#ca0020"/><circle cx="1091.47" cy="183.90" r="2.08" fill="#ca0020"/><circle cx="1091.47" cy="192.18" r="2.29" fill="#ca0020"/><circle cx="1091.47" cy="200.46" r="2.08" fill="#ca0020"/><circle cx="1091.47" cy="217.02" r="3.01" fill="#ca0020"/><circle cx="1091.47" cy="225.30" r="2.08" fill="#ca0020"/><circle cx="1091.47" cy="250.14" r="1.47" fill="#ca0020"/><circle cx="1091.47" cy="258.42" r="1.47" fill="#ca0020"/>
<line x1="50.0" y1="622.4" x2="1108.0" y2="622.4" stroke="#000" stroke-width="1.5"/>
<line x1="182.25" y1="598.2" x2="182.25" y2="648" stroke="#000" stroke-width="1.4"/>
<line x1="314.50" y1="598.2" x2="314.50" y2="648" stroke="#000" stroke-width="1.4"/>
<line x1="446.75" y1="598.2" x2="446.75" y2="648" stroke="#000" stroke-width="1.4"/>
<line x1="579.00" y1="598.2" x2="579.00" y2="648" stroke="#000" stroke-width="1.4"/>
<line x1="711.25" y1="598.2" x2="711.25" y2="648" stroke="#000" stroke-width="1.4"/>
<line x1="843.50" y1="598.2" x2="843.50" y2="648" stroke="#000" stroke-width="1.4"/>
<line x1="975.75" y1="598.2" x2="975.75" y2="648" stroke="#000" stroke-width="1.4"/>
<line x1="83.06" y1="622.6" x2="83.06" y2="648" stroke="#000" stroke-width="1.3"/>
<line x1="116.12" y1="622.6" x2="116.12" y2="648" stroke="#000" stroke-width="1.3"/>
<line x1="149.19" y1="622.6" x2="149.19" y2="648" stroke="#000" stroke-width="1.3"/>
<line x1="215.31" y1="622.6" x2="215.31" y2="648" stroke="#000" stroke-width="1.3"/>
<line x1="248.38" y1="622.6" x2="248.38" y2="648" stroke="#000" stroke-width="1.3"/>
<line x1="281.44" y1="622.6" x2="281.44" y2="648" stroke="#000" stroke-width="1.3"/>
<line x1="347.56" y1="622.6" x2="347.56" y2="648" stroke="#000" stroke-width="1.3"/>
<line x1="380.62" y1="622.6" x2="380.62" y2="648" stroke="#000" stroke-width="1.3"/>
<line x1="413.69" y1="622.6" x2="413.69" y2="648" stroke="#000" stroke-width="1.3"/>
<line x1="479.81" y1="622.6" x2="479.81" y2="648" stroke="#000" stroke-width="1.3"/>
<line x1="512.88" y1="622.6" x2="512.88" y2="648" stroke="#000" stroke-width="1.3"/>
<line x1="545.94" y1="622.6" x2="545.94" y2="648" stroke="#000" stroke-width="1.3"/>
<line x1="612.06" y1="622.6" x2="612.06" y2="648" stroke="#000" stroke-width="1.3"/>
<line x1="645.12" y1="622.6" x2="645.12" y2="648" stroke="#000" stroke-width="1.3"/>
<line x1="678.19" y1="622.6" x2="678.19" y2="648" stroke="#000" stroke-width="1.3"/>
<line x1="744.31" y1="622.6" x2="744.31" y2="648" stroke="#000" stroke-width="1.3"/>
<line x1="777.38" y1="622.6" x2="777.38" y2="648" stroke="#000" stroke-width="1.3"/>
<line x1="810.44" y1="622.6" x2="810.44" y2="648" stroke="#000" stroke-width="1.3"/>
<line x1="876.56" y1="622.6" x2="876.56" y2="648" stroke="#000" stroke-width="1.3"/>
<line x1="909.62" y1="622.6" x2="909.62" y2="648" stroke="#000" stroke-width="1.3"/>
<line x1="942.69" y1="622.6" x2="942.69" y2="648" stroke="#000" stroke-width="1.3"/>
<line x1="1008.81" y1="622.6" x2="1008.81" y2="648" stroke="#000" stroke-width="1.3"/>
<line x1="1041.88" y1="622.6" x2="1041.88" y2="648" stroke="#000" stroke-width="1.3"/>
<line x1="1074.94" y1="622.6" x2="1074.94" y2="648" stroke="#000" stroke-width="1.3"/>
<rect x="50.0" y="10.0" width="1058.0" height="637.6" fill="none" stroke="#000" stroke-width="2"/>
<g filter="url(#ga)">
<line x1="44.2" y1="598.45" x2="49.2" y2="598.45" stroke="#000" stroke-width="1.1"/>
<text x="41.1" y="602.00" font-size="13" letter-spacing="0.5" text-anchor="end" fill="#000">-30</text>
<line x1="44.2" y1="515.40" x2="49.2" y2="515.40" stroke="#000" stroke-width="1.1"/>
<text x="41.1" y="520.00" font-size="13" letter-spacing="0.5" text-anchor="end" fill="#000">-20</text>
<line x1="44.2" y1="432.70" x2="49.2" y2="432.70" stroke="#000" stroke-width="1.1"/>
<text x="41.1" y="437.00" font-size="13" letter-spacing="0.5" text-anchor="end" fill="#000">-10</text>
<line x1="44.2" y1="350.00" x2="49.2" y2="350.00" stroke="#000" stroke-width="1.1"/>
<text x="41.1" y="354.00" font-size="13" letter-spacing="0.5" text-anchor="end" fill="#000">0</text>
<line x1="44.2" y1="267.30" x2="49.2" y2="267.30" stroke="#000" stroke-width="1.1"/>
<text x="41.1" y="271.00" font-size="13" letter-spacing="0.5" text-anchor="end" fill="#000">10</text>
<line x1="44.2" y1="184.40" x2="49.2" y2="184.40" stroke="#000" stroke-width="1.1"/>
<text x="41.1" y="188.00" font-size="13" letter-spacing="0.5" text-anchor="end" fill="#000">20</text>
<line x1="44.2" y1="101.40" x2="49.2" y2="101.40" stroke="#000" stroke-width="1.1"/>
<text x="41.1" y="105.00" font-size="13" letter-spacing="0.5" text-anchor="end" fill="#000">30</text>
<line x1="44.2" y1="18.50" x2="49.2" y2="18.50" stroke="#000" stroke-width="1.1"/>
<text x="41.1" y="23.00" font-size="13" letter-spacing="0.5" text-anchor="end" fill="#000">40</text>
<line x1="44.2" y1="10.45" x2="49.2" y2="10.45" stroke="#000" stroke-width="1.0"/>
<text x="116.72" y="615.0" font-size="16" letter-spacing="1.2" text-anchor="middle" fill="#000">Oct</text>
<text x="248.97" y="615.0" font-size="16" letter-spacing="1.2" text-anchor="middle" fill="#000">Nov</text>
<text x="381.23" y="615.0" font-size="16" letter-spacing="1.2" text-anchor="middle" fill="#000">Dec</text>
<text x="512.48" y="615.0" font-size="16" letter-spacing="0.2" text-anchor="middle" fill="#000">Jan</text>
<text x="645.23" y="615.0" font-size="16" letter-spacing="0.2" text-anchor="middle" fill="#000">Feb</text>
<text x="777.98" y="615.0" font-size="16" letter-spacing="1.2" text-anchor="middle" fill="#000">Mar</text>
<text x="910.23" y="615.0" font-size="16" letter-spacing="1.2" text-anchor="middle" fill="#000">Apr</text>
<text x="1042.47" y="615.0" font-size="16" letter-spacing="1.2" text-anchor="middle" fill="#000">May</text>
<text x="67.10" y="642.5" font-size="16" text-anchor="middle" fill="#000">1</text>
<text x="100.10" y="642.5" font-size="16" text-anchor="middle" fill="#000">2</text>
<text x="133.10" y="642.5" font-size="16" text-anchor="middle" fill="#000">3</text>
<text x="166.10" y="642.5" font-size="16" text-anchor="middle" fill="#000">4</text>
<text x="199.10" y="642.5" font-size="16" text-anchor="middle" fill="#000">1</text>
<text x="232.10" y="642.5" font-size="16" text-anchor="middle" fill="#000">2</text>
<text x="265.10" y="642.5" font-size="16" text-anchor="middle" fill="#000">3</text>
<text x="298.10" y="642.5" font-size="16" text-anchor="middle" fill="#000">4</text>
<text x="331.10" y="642.5" font-size="16" text-anchor="middle" fill="#000">1</text>
<text x="364.10" y="642.5" font-size="16" text-anchor="middle" fill="#000">2</text>
<text x="397.10" y="642.5" font-size="16" text-anchor="middle" fill="#000">3</text>
<text x="430.10" y="642.5" font-size="16" text-anchor="middle" fill="#000">4</text>
<text x="463.10" y="642.5" font-size="16" text-anchor="middle" fill="#000">1</text>
<text x="496.10" y="642.5" font-size="16" text-anchor="middle" fill="#000">2</text>
<text x="529.10" y="642.5" font-size="16" text-anchor="middle" fill="#000">3</text>
<text x="562.10" y="642.5" font-size="16" text-anchor="middle" fill="#000">4</text>
<text x="596.10" y="642.5" font-size="16" text-anchor="middle" fill="#000">1</text>
<text x="629.10" y="642.5" font-size="16" text-anchor="middle" fill="#000">2</text>
<text x="662.10" y="642.5" font-size="16" text-anchor="middle" fill="#000">3</text>
<text x="695.10" y="642.5" font-size="16" text-anchor="middle" fill="#000">4</text>
<text x="728.10" y="642.5" font-size="16" text-anchor="middle" fill="#000">1</text>
<text x="761.10" y="642.5" font-size="16" text-anchor="middle" fill="#000">2</text>
<text x="794.10" y="642.5" font-size="16" text-anchor="middle" fill="#000">3</text>
<text x="827.10" y="642.5" font-size="16" text-anchor="middle" fill="#000">4</text>
<text x="860.10" y="642.5" font-size="16" text-anchor="middle" fill="#000">1</text>
<text x="893.10" y="642.5" font-size="16" text-anchor="middle" fill="#000">2</text>
<text x="926.10" y="642.5" font-size="16" text-anchor="middle" fill="#000">3</text>
<text x="959.10" y="642.5" font-size="16" text-anchor="middle" fill="#000">4</text>
<text x="992.10" y="642.5" font-size="16" text-anchor="middle" fill="#000">1</text>
<text x="1025.10" y="642.5" font-size="16" text-anchor="middle" fill="#000">2</text>
<text x="1058.10" y="642.5" font-size="16" text-anchor="middle" fill="#000">3</text>
<text x="1091.10" y="642.5" font-size="16" text-anchor="middle" fill="#000">4</text>
<text transform="translate(19.8,305.0) rotate(-90)" font-size="25" letter-spacing="1.35" text-anchor="middle" fill="#3e3e3e">Temperature (C)</text>
</g>
</svg></body></html>
